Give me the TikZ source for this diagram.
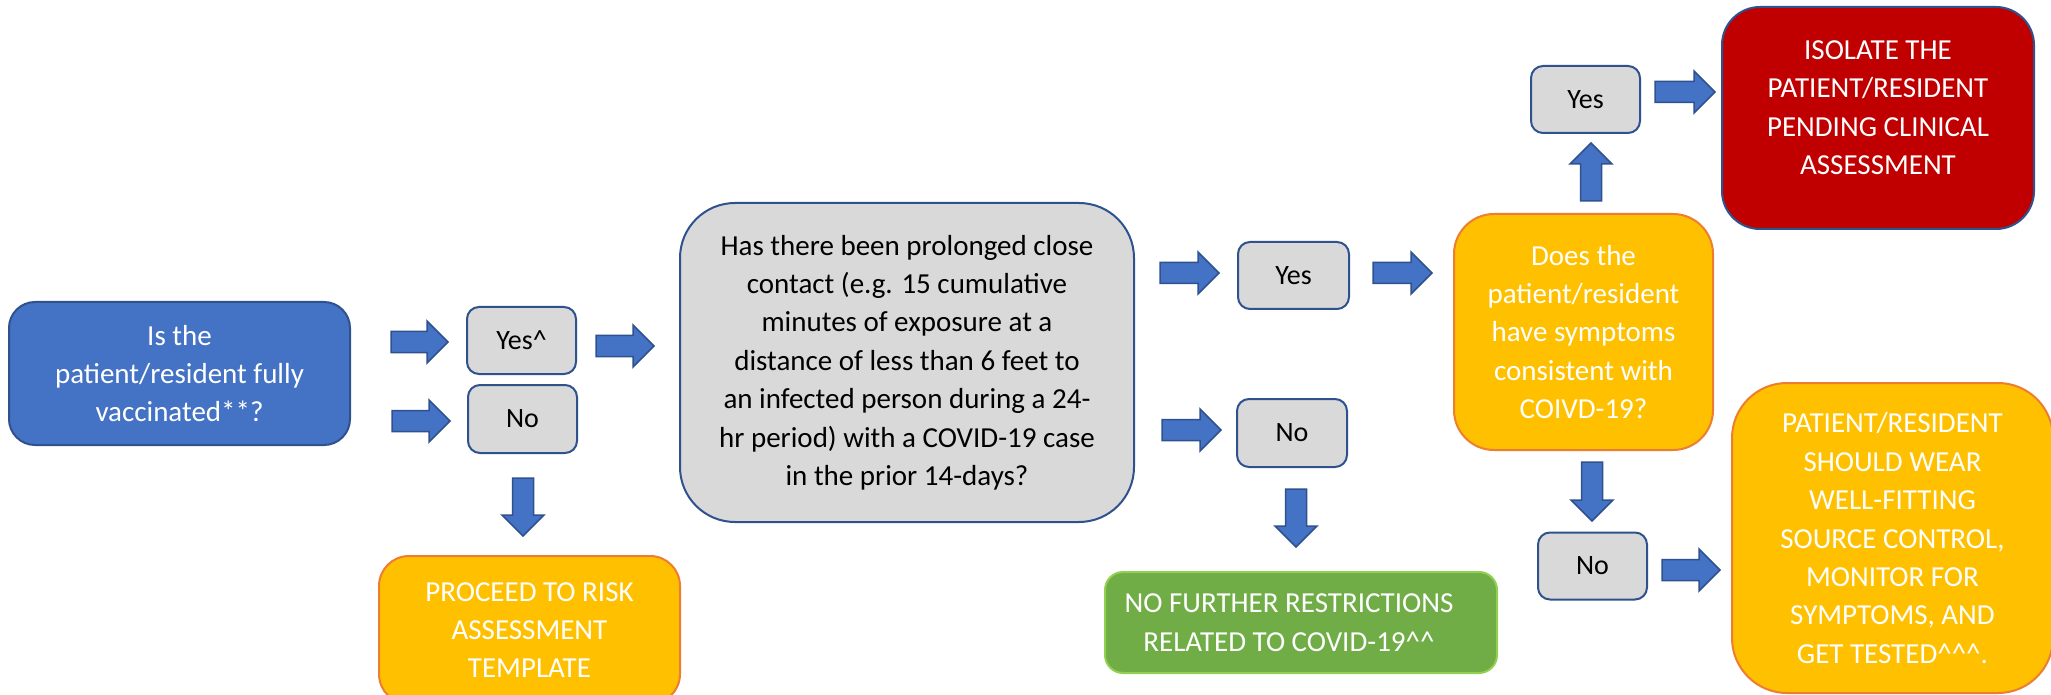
\documentclass[tikz,border=0pt]{standalone}
\usepackage{fontspec}
\setmainfont{Carlito}
\definecolor{qblue}{HTML}{4472C4}
\definecolor{bordblue}{HTML}{2F528F}
\definecolor{lgray}{HTML}{D9D9D9}
\definecolor{amber}{HTML}{FFC000}
\definecolor{orbord}{HTML}{ED7D31}
\definecolor{dred}{HTML}{C00000}
\definecolor{lgreen}{HTML}{70AD47}
\definecolor{grbord}{HTML}{92D050}
\tikzset{
  bx/.style={draw=bordblue, line width=1pt, inner sep=0pt, outer sep=0pt, align=center,
    font=\fontsize{14.5}{19.2}\selectfont},
  bluebox/.style={bx, fill=qblue, text=white},
  graybox/.style={bx, fill=lgray, text=black},
  ambbox/.style={bx, draw=orbord, fill=amber, text=white},
  redbox/.style={bx, fill=dred, text=white},
  greenbox/.style={bx, draw=grbord, fill=lgreen, text=white},
  yn/.style={graybox, minimum width=54.5pt, minimum height=33.5pt, rounded corners=6pt,
    font=\fontsize{14}{19}\selectfont},
  blk/.style={fill=qblue, draw=bordblue, line width=0.75pt, line join=miter},
}
\newcommand\arR[3]{\draw[blk] (#1,#3-10.5) -- (#2-21,#3-10.5) -- (#2-21,#3-21) -- (#2,#3)
  -- (#2-21,#3+21) -- (#2-21,#3+10.5) -- (#1,#3+10.5) -- cycle;}
\newcommand\arD[3]{\draw[blk] (#1-10.5,#2) -- (#1+10.5,#2) -- (#1+10.5,#3-21) -- (#1+21,#3-21)
  -- (#1,#3) -- (#1-21,#3-21) -- (#1-10.5,#3-21) -- cycle;}
\newcommand\arU[3]{\draw[blk] (#1-10.5,#2) -- (#1+10.5,#2) -- (#1+10.5,#3+21) -- (#1+21,#3+21)
  -- (#1,#3) -- (#1-21,#3+21) -- (#1-10.5,#3+21) -- cycle;}
\begin{document}
\begin{tikzpicture}[x=0.5pt,y=-0.5pt]
\clip (0,0) rectangle (2051,695);
\fill[white] (0,0) rectangle (2051,695);

% boxes
\node[bluebox, minimum width=170.5pt, minimum height=71.5pt, rounded corners=13pt] (q1) at (179.5,373.5)
  {Is the\\patient/resident fully\\vaccinated**?};
\node[yn] (yes1) at (521.5,340.5) {Yes\textasciicircum};
\node[yn, minimum height=34pt] (no1) at (522.5,419) {No};
\node[ambbox, minimum width=150.5pt, minimum height=74pt, rounded corners=15pt] (proceed) at (529.5,630)
  {PROCEED TO RISK\\ASSESSMENT\\TEMPLATE};
\node[graybox, minimum width=227pt, minimum height=159.5pt, rounded corners=27.5pt] (q2) at (907,362.5)
  {Has there been prolonged close\\contact (e.g. 15 cumulative\\minutes of exposure at a\\distance of less than 6 feet to\\an infected person during a 24-\\hr period) with a COVID-19 case\\in the prior 14-days?};
\node[yn, minimum width=55.5pt] (yes2) at (1293.5,275.5) {Yes};
\node[yn, minimum width=55pt, minimum height=34pt] (no2) at (1292,433) {No};
\node[greenbox, minimum width=196pt, minimum height=50.5pt, rounded corners=9pt] (nofurther) at (1301,622.5)
  {NO FURTHER RESTRICTIONS\hspace*{12pt}\\RELATED TO COVID-19\textasciicircum\textasciicircum\hspace*{12pt}};
\node[ambbox, minimum width=129.5pt, minimum height=118pt, rounded corners=20pt] (q3) at (1583.5,332)
  {Does the\\patient/resident\\have symptoms\\consistent with\\COIVD-19?};
\node[yn] (yes3) at (1585.5,99.5) {Yes};
\node[redbox, minimum width=156pt, minimum height=111pt, rounded corners=19pt, text depth=10.5pt] (isolate) at (1878,118)
  {ISOLATE THE\\PATIENT/RESIDENT\\PENDING CLINICAL\\ASSESSMENT};
\node[yn] (no3) at (1592.5,566) {No};
\node[ambbox, minimum width=160.5pt, minimum height=155pt, rounded corners=27.5pt, text depth=-6.5pt] (monitor) at (1892.5,538)
  {PATIENT/RESIDENT\\SHOULD WEAR\\WELL-FITTING\\SOURCE CONTROL,\\MONITOR FOR\\SYMPTOMS, AND\\GET TESTED\textasciicircum\textasciicircum\textasciicircum.};

% block arrows
\arR{391}{448}{342}
\arR{392}{450}{421}
\arR{596}{654}{346}
\arD{523}{478}{536}
\arR{1160}{1219}{273}
\arR{1162}{1221}{430}
\arD{1296}{489}{547}
\arR{1373}{1432}{273}
\arU{1591}{201}{143}
\arR{1655}{1715}{92}
\arD{1592}{462}{521}
\arR{1662}{1720}{570}
\end{tikzpicture}
\end{document}
